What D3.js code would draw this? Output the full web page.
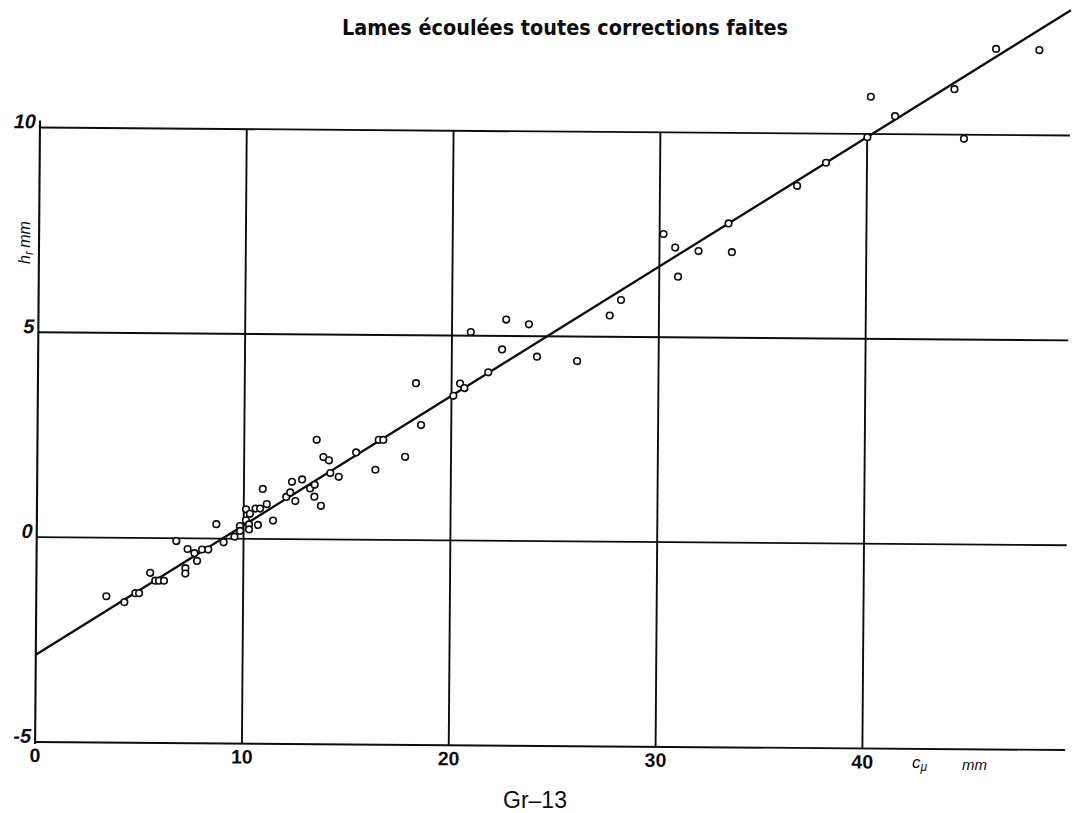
<!DOCTYPE html>
<html>
<head>
<meta charset="utf-8">
<script src="https://cdn.jsdelivr.net/npm/d3@7"></script>
<style>
  body { margin: 0; background: #fff; }
  svg { display: block; }
</style>
</head>
<body>
<svg id="chart" width="1073" height="813"></svg>
<script>
// Tick values of both axes
const xTicks = [0, 10, 20, 30, 40];
const yTicks = [-5, 0, 5, 10];

// Measured pairs: c_mu (mm) against h_r (mm)
const cValues = [
  3.39, 4.26, 4.79, 4.97, 5.50, 5.75, 5.93, 6.17, 6.75, 7.20,
  7.20, 7.30, 7.63, 7.76, 8.00, 8.30, 8.68, 9.04, 9.56, 9.82,
  9.83, 10.11, 10.30, 10.11, 10.26, 10.26, 10.57, 10.79, 11.11, 10.69,
  10.91, 11.42, 12.05, 12.24, 12.32, 12.49, 12.81, 13.20, 13.42, 13.41,
  13.73, 13.50, 13.83, 14.10, 14.17, 14.58, 15.41, 16.35, 16.50, 16.72,
  17.78, 18.28, 18.54, 20.09, 20.41, 20.62, 21.77, 20.91, 22.43, 22.62,
  23.72, 24.12, 26.06, 27.62, 28.16, 30.19, 30.76, 30.91, 31.89, 33.50,
  33.33, 36.63, 38.02, 40.01, 40.16, 41.34, 44.20, 44.68, 46.20, 48.29
];
const hValues = [
  -1.43, -1.57, -1.35, -1.35, -0.85, -1.04, -1.04, -1.04, -0.07, -0.73,
  -0.86, -0.26, -0.36, -0.55, -0.27, -0.27, 0.35, -0.09, 0.05, 0.31,
  0.19, 0.72, 0.61, 0.45, 0.35, 0.23, 0.74, 0.74, 0.85, 0.34,
  1.22, 0.45, 1.03, 1.14, 1.40, 0.93, 1.46, 1.24, 1.33, 1.04,
  0.82, 2.43, 2.01, 1.93, 1.62, 1.53, 2.13, 1.71, 2.44, 2.44,
  2.03, 3.83, 2.81, 3.53, 3.83, 3.72, 4.11, 5.09, 4.67, 5.40,
  5.29, 4.50, 4.40, 5.52, 5.90, 7.52, 7.19, 6.48, 7.11, 7.09,
  7.79, 8.72, 9.29, 9.92, 10.91, 10.44, 11.11, 9.90, 12.10, 12.08
];

// Fitted straight line, given by its two end points
const fitC = [0, 49.8];
const fitH = [-2.87, 13.06];

// Right-hand limit of the ruled area
const cMax = 49.8;

const svg = d3.select("#chart");
const W = 1073, H = 813;
svg.append("rect").attr("width", W).attr("height", H).attr("fill", "#fff");

const x = d3.scaleLinear().domain([0, 40]).range([37.5, 864.8]);
const y = d3.scaleLinear().domain([-5, 10]).range([746, 131.5]);

// The ruled sheet sits very slightly askew
const g = svg.append("g").attr("transform", "rotate(0.45,550,440)");

const ink = "#0d0d0d";

// Horizontal rules
g.selectAll("line.hrule").data(yTicks).join("line")
  .attr("class", "hrule")
  .attr("x1", x(0)).attr("x2", x(cMax))
  .attr("y1", d => y(d)).attr("y2", d => y(d))
  .attr("stroke", ink).attr("stroke-width", 1.9);

// Vertical rules
g.selectAll("line.vrule").data(xTicks.filter(d => d > 0)).join("line")
  .attr("class", "vrule")
  .attr("x1", d => x(d)).attr("x2", d => x(d))
  .attr("y1", y(10)).attr("y2", y(-5))
  .attr("stroke", ink).attr("stroke-width", 1.9);

// Ordinate axis
g.append("line")
  .attr("x1", x(0)).attr("x2", x(0))
  .attr("y1", y(10) - 7).attr("y2", y(-5) + 2)
  .attr("stroke", ink).attr("stroke-width", 2.1);

// Fitted line, clipped to the sheet
svg.append("clipPath").attr("id", "sheet")
  .append("rect").attr("x", x(0)).attr("y", -20).attr("width", x(cMax) - x(0) + 4).attr("height", y(-5) + 20);

const line = d3.line().x(d => x(d[0])).y(d => y(d[1]));
g.append("path")
  .datum(fitC.map((c, i) => [c, fitH[i]]))
  .attr("clip-path", "url(#sheet)")
  .attr("d", line)
  .attr("fill", "none")
  .attr("stroke", ink).attr("stroke-width", 2.3);

// Observations as open circles
const pts = cValues.map((c, i) => [c, hValues[i]]);
g.selectAll("circle.obs").data(pts).join("circle")
  .attr("class", "obs")
  .attr("cx", d => x(d[0])).attr("cy", d => y(d[1]))
  .attr("r", 3.3)
  .attr("fill", "#fff")
  .attr("stroke", ink).attr("stroke-width", 1.6);

// Tick labels
g.selectAll("text.xt").data(xTicks).join("text")
  .attr("class", "xt")
  .attr("x", d => x(d)).attr("y", y(-5) + 20)
  .attr("text-anchor", "middle")
  .attr("font-family", "Liberation Sans, Arial, sans-serif")
  .attr("font-weight", "bold")
  .attr("font-size", 19.5)
  .attr("fill", ink)
  .text(d => d);

g.selectAll("text.yt").data(yTicks).join("text")
  .attr("class", "yt")
  .attr("x", x(0) - 4).attr("y", d => y(d) + 1)
  .attr("text-anchor", "end")
  .attr("font-family", "Liberation Sans, Arial, sans-serif")
  .attr("font-weight", "bold")
  .attr("font-style", "italic")
  .attr("font-size", 20)
  .attr("fill", ink)
  .text(d => d);

// Title
svg.append("text")
  .attr("x", 342).attr("y", 35)
  .attr("textLength", 446).attr("lengthAdjust", "spacingAndGlyphs")
  .attr("font-family", "DejaVu Sans Condensed, DejaVu Sans, sans-serif")
  .attr("font-weight", "bold")
  .attr("font-size", 21)
  .attr("fill", ink)
  .text("Lames écoulées toutes corrections faites");

// Axis names
const yName = svg.append("text")
  .attr("transform", "translate(30,264) rotate(-90)")
  .attr("font-family", "Liberation Sans, Arial, sans-serif")
  .attr("font-style", "italic")
  .attr("font-size", 16)
  .attr("fill", ink);
yName.append("tspan").text("h");
yName.append("tspan").attr("font-size", 12).attr("dy", 3).text("r ");
yName.append("tspan").attr("dy", -3).text("mm");

const xName = svg.append("text")
  .attr("x", 912).attr("y", 768)
  .attr("font-family", "Liberation Sans, Arial, sans-serif")
  .attr("font-style", "italic")
  .attr("font-size", 17)
  .attr("fill", ink);
xName.append("tspan").text("c");
xName.append("tspan").attr("font-size", 12).attr("dy", 3).text("μ");
xName.append("tspan").attr("x", 962).attr("dy", -1).attr("font-size", 15).text("mm");

// Figure number
svg.append("text")
  .attr("x", 535).attr("y", 808)
  .attr("text-anchor", "middle")
  .attr("font-family", "Liberation Sans, Arial, sans-serif")
  .attr("font-size", 23)
  .attr("fill", ink)
  .text("Gr–13");
</script>
</body>
</html>
